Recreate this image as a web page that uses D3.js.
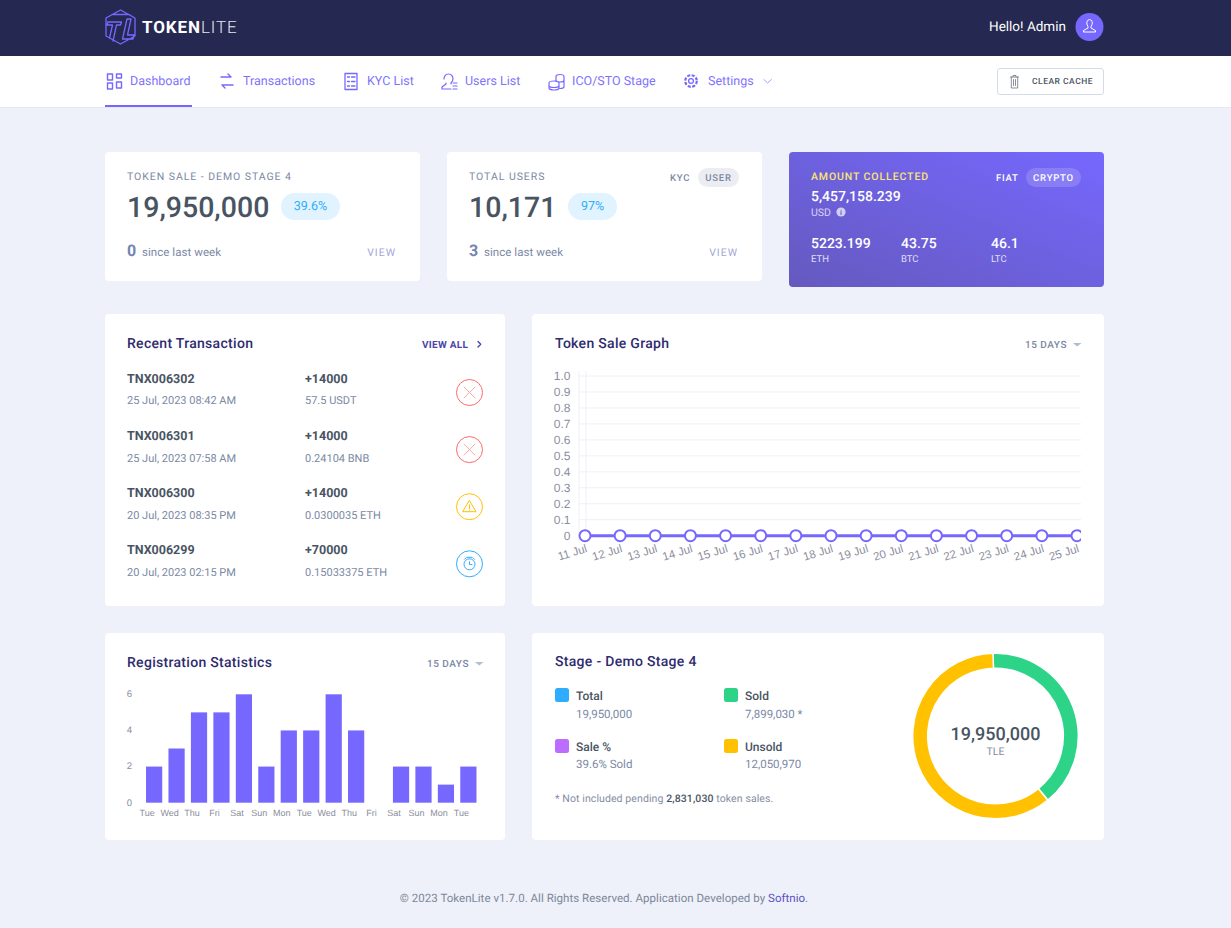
<!DOCTYPE html>
<html>
<head>
<meta charset="utf-8">
<title>TokenLite Dashboard</title>
<script src="https://cdn.jsdelivr.net/npm/d3@7"></script>
<style>
html, body { margin: 0; padding: 0; background: #eef1f9; }
svg { display: block; font-family: Roboto, sans-serif; text-rendering: geometricPrecision; }
.ax text { font-family: "Liberation Sans", sans-serif; fill: #8b8e9c; }
</style>
</head>
<body>
<svg id="page" width="1231" height="928"></svg>
<script>
// chart data
const saleDays = ["11 Jul","12 Jul","13 Jul","14 Jul","15 Jul","16 Jul","17 Jul","18 Jul","19 Jul","20 Jul","21 Jul","22 Jul","23 Jul","24 Jul","25 Jul"];
const saleValues = [0,0,0,0,0,0,0,0,0,0,0,0,0,0,0];
const saleTicks = [0,0.1,0.2,0.3,0.4,0.5,0.6,0.7,0.8,0.9,1];
const regDays = ["Tue","Wed","Thu","Fri","Sat","Sun","Mon","Tue","Wed","Thu","Fri","Sat","Sun","Mon","Tue"];
const regValues = [2,3,5,5,6,2,4,4,6,4,0,2,2,1,2];
const regTicks = [0,2,4,6];
const stageLabels = ["Sold","Unsold"];
const stageValues = [7899030,12050970];
const stageColors = ["#2dd488","#ffc100"];
const transactions = [
    ["TNX006302","+14000","25 Jul, 2023 08:42 AM","57.5 USDT","canceled"],
    ["TNX006301","+14000","25 Jul, 2023 07:58 AM","0.24104 BNB","canceled"],
    ["TNX006300","+14000","20 Jul, 2023 08:35 PM","0.0300035 ETH","warning"],
    ["TNX006299","+70000","20 Jul, 2023 02:15 PM","0.15033375 ETH","pending"]
];
const navItems = [["Dashboard",130],["Transactions",243],["KYC List",367],["Users List",465],["ICO/STO Stage",572],["Settings",708]];

const purple = "#7668fe", ink = "#495463", soft = "#7b88a4", navy = "#2f2c6e";
const svg = d3.select("#page");

function txt(parent, x, y, s, o = {}) {
    return parent.append("text")
        .attr("x", x).attr("y", y)
        .attr("font-size", o.size || 12)
        .attr("font-weight", o.weight || 400)
        .attr("fill", o.fill || soft)
        .attr("text-anchor", o.anchor || "start")
        .attr("letter-spacing", o.ls || 0)
        .text(s);
}
function card(x, y, w, h) {
    return svg.append("rect").attr("x", x).attr("y", y).attr("width", w).attr("height", h)
        .attr("rx", 4).attr("fill", "#fff");
}
function icon(x, y, d, color, sw = 1.3) {
    return svg.append("path").attr("transform", `translate(${x},${y})`).attr("d", d)
        .attr("fill", "none").attr("stroke", color).attr("stroke-width", sw)
        .attr("stroke-linecap", "round").attr("stroke-linejoin", "round");
}

// background, header, nav
svg.append("rect").attr("width", 1231).attr("height", 928).attr("fill", "#eef1f9");
svg.append("rect").attr("width", 1231).attr("height", 56).attr("fill", "#252850");
svg.append("rect").attr("y", 56).attr("width", 1231).attr("height", 51).attr("fill", "#fff");
svg.append("rect").attr("y", 107).attr("width", 1231).attr("height", 1).attr("fill", "#e6e9f2");
svg.append("rect").attr("x", 105).attr("y", 105).attr("width", 87).attr("height", 2).attr("fill", purple);

// logo
icon(105, 10, "M15.5 0L30 8V26L15.5 34L1 26V8ZM7 4.5H24L30 8M3 12H16.5L15.5 15H11.5L8 31M3 12L2 15H7.5L4.5 28M22 9L17.5 29H28L29 25H22.5L26 9Z", purple, 1.3);
const logo = txt(svg, 142, 33, "TOKEN", { size: 17, weight: 700, fill: "#fff", ls: 0.9 });
logo.append("tspan").attr("font-weight", 300).attr("fill", "#e4e5ee").text("LITE");

txt(svg, 989, 31, "Hello! Admin", { size: 13.5, fill: "#fff" });
svg.append("circle").attr("cx", 1089.5).attr("cy", 27).attr("r", 14).attr("fill", purple);
icon(1089.5, 27, "M-2.5-2.5a2.8 3.4 0 1 1 5 0l-1 2.3v1.2L6 3.5V5H-6V3.5L-1.5 1V-.2Z", "#fff", 1);

navItems.forEach(d => txt(svg, d[1], 85, d[0], { size: 12.5, fill: "#8073fb" }));
icon(106, 73, "M1.5 1h5v6h-5ZM10.5 1h5v4h-5ZM1.5 10h5v6h-5ZM10.5 9h5v6h-5Z", purple, 1.4);
icon(220, 74, "M8 0l3 3H1M5 14l-3-3h11", purple, 1.4);
icon(344, 73, "M1 .5h12v16H1ZM3.5 4h2M7.5 4h3.5M3.5 8.5h2M7.5 8.5h3.5M3.5 13h2M7.5 13h3.5", purple, 1.3);
icon(441, 73, "M3 6a4.5 5 0 0 1 9 0c0 2-1 3-2 4v1M5 10v1l-4 3v2h9M12 10h4M12 13h4M12 16h4", purple, 1.2);
icon(548, 74, "M8 2.5a4 2 0 0 1 8 0v10a4 2 0 0 1-4 2M8 2.5v5M1 9a5 2 0 0 1 10 0v5a5 2 0 0 1-10 0ZM1 11.5a5 2 0 0 0 10 0M8 6a4 2 0 0 0 8 0", purple, 1.2);
svg.append("circle").attr("cx", 691).attr("cy", 81).attr("r", 2.4).attr("fill", "none").attr("stroke", purple).attr("stroke-width", 1.3);
svg.append("circle").attr("cx", 691).attr("cy", 81).attr("r", 5.8).attr("fill", "none").attr("stroke", purple).attr("stroke-width", 2.2).attr("stroke-dasharray", "3.1 1.45");
icon(764, 79.5, "M0 0l3.7 3.5 3.7-3.5", "#a79ffb", 1);

svg.append("rect").attr("x", 997.5).attr("y", 68.5).attr("width", 106).attr("height", 26).attr("rx", 2.5)
    .attr("fill", "#fff").attr("stroke", "#d2dde9");
icon(1010.5, 75, "M0 2h8M2.5 2V.5h3V2M.8 2v11h6.4V2M3 4.5v6M5 4.5v6", "#6b7482", 0.8);
txt(svg, 1032, 84, "CLEAR CACHE", { size: 8.5, weight: 500, fill: ink, ls: 0.5 });

// top cards
function statCard(x, label, value, badge, badgeW, count) {
    card(x, 152, 315, 129);
    txt(svg, x + 22, 180, label, { size: 10.5, fill: soft, ls: 0.95 });
    const v = x + 22;
    txt(svg, v, 217, value, { size: 28.5, weight: 500, fill: ink });
    const bx = x === 105 ? 281 : 568;
    svg.append("rect").attr("x", bx).attr("y", 193).attr("width", badgeW).attr("height", 27).attr("rx", 13.5).attr("fill", "#e0f3fe");
    txt(svg, bx + badgeW / 2, 210, badge, { size: 12.5, fill: "#2eacff", anchor: "middle" });
    txt(svg, v, 256, count, { size: 16, weight: 700, fill: "#7385b0" });
    txt(svg, v + 15, 256, "since last week", { size: 11.5, ls: 0.05, fill: soft });
    txt(svg, x + 291, 256, "VIEW", { size: 10.5, fill: "#a3a6d6", anchor: "end", ls: 1 });
}
statCard(105, "TOKEN SALE - DEMO STAGE 4", "19,950,000", "39.6%", 59, "0");
statCard(447, "TOTAL USERS", "10,171", "97%", 49, "3");
txt(svg, 670, 181, "KYC", { size: 9.5, weight: 500, fill: soft, ls: 0.8 });
svg.append("rect").attr("x", 698).attr("y", 168).attr("width", 41).attr("height", 19).attr("rx", 9.5).attr("fill", "#ebedf2");
txt(svg, 718.5, 181, "USER", { size: 9.5, weight: 500, fill: soft, ls: 0.8, anchor: "middle" });

// amount card
const grad = svg.append("defs").append("linearGradient").attr("id", "amt")
    .attr("x1", "0%").attr("y1", "100%").attr("x2", "100%").attr("y2", "0%");
grad.append("stop").attr("offset", "0%").attr("stop-color", "#6559bf");
grad.append("stop").attr("offset", "100%").attr("stop-color", "#7668fe");
svg.append("rect").attr("x", 789).attr("y", 152).attr("width", 315).attr("height", 135).attr("rx", 4).attr("fill", "url(#amt)");
txt(svg, 811, 180, "AMOUNT COLLECTED", { size: 10.5, weight: 500, fill: "#f9e56f", ls: 0.9 });
txt(svg, 996, 181, "FIAT", { size: 9.5, weight: 500, fill: "#fff", ls: 0.8 });
svg.append("rect").attr("x", 1026).attr("y", 168).attr("width", 55).attr("height", 19).attr("rx", 9.5).attr("fill", "#fff").attr("opacity", 0.16);
txt(svg, 1053.5, 181, "CRYPTO", { size: 9.5, weight: 500, fill: "#fff", ls: 0.8, anchor: "middle" });
txt(svg, 811, 201, "5,457,158.239", { size: 14, weight: 500, fill: "#fff" });
txt(svg, 811, 216, "USD", { size: 10.5, fill: "#fff" }).attr("opacity", 0.7);
svg.append("circle").attr("cx", 841).attr("cy", 212).attr("r", 4.6).attr("fill", "#fff").attr("opacity", 0.7);
txt(svg, 841, 215, "i", { size: 7, weight: 700, fill: "#6a5dd0", anchor: "middle" });
[["5223.199", "ETH", 811], ["43.75", "BTC", 901], ["46.1", "LTC", 991]].forEach(d => {
    txt(svg, d[2], 248, d[0], { size: 14, weight: 500, fill: "#fff" });
    txt(svg, d[2], 262, d[1], { size: 9.5, fill: "#fff" }).attr("opacity", 0.8);
});

// recent transactions
card(105, 314, 400, 292);
txt(svg, 127, 348, "Recent Transaction", { size: 14, weight: 500, fill: navy, ls: 0.3 });
txt(svg, 422, 348, "VIEW ALL", { size: 10, weight: 700, fill: "#4a46a8", ls: 0.3 });
icon(478, 341.5, "M0 0l2.7 2.7-2.7 2.7", "#4a46a8", 1.4);
const statusColor = { canceled: "#ff6868", warning: "#ffc100", pending: "#2eacff" };
const rows = svg.append("g");
transactions.forEach((t, i) => {
    const y = 57.1 * i;
    txt(rows, 127, 383 + y, t[0], { size: 12.5, weight: 700, fill: ink });
    txt(rows, 305, 383 + y, t[1], { size: 12.5, weight: 700, fill: ink });
    txt(rows, 127, 404 + y + (i ? 0.8 : 0), t[2], { size: 11, fill: soft });
    txt(rows, 305, 404 + y + (i ? 0.8 : 0), t[3], { size: 11, fill: soft });
    const cy = 392.5 + y, c = statusColor[t[4]];
    svg.append("circle").attr("cx", 469.5).attr("cy", cy).attr("r", 13).attr("fill", "#fff").attr("stroke", c);
    if (t[4] === "canceled") icon(469.5, cy, "M-5.5-5.5L5.5 5.5M5.5-5.5L-5.5 5.5", "#ffa9a9", 1);
    if (t[4] === "warning") icon(469.5, cy, "M0-6L6.5 5H-6.5ZM0-2V2M0 3.4V3.6", c, 1);
    if (t[4] === "pending") {
        svg.append("circle").attr("cx", 469.5).attr("cy", cy + 0.5).attr("r", 5.5).attr("fill", "none").attr("stroke", c);
        icon(469.5, cy, "M0-2V.8H2.5M-5-4.5L-3.5-6M5-4.5L3.5-6M-2.5-6.5H2.5", c, 1);
    }
});

// token sale graph
card(532, 314, 572, 292);
txt(svg, 555, 348, "Token Sale Graph", { size: 14, weight: 500, fill: navy, ls: 0.3 });
function daysPicker(x, y) {
    txt(svg, x, y, "15 DAYS", { size: 10, weight: 500, fill: soft, ls: 0.5 });
    svg.append("path").attr("transform", `translate(${x + 48},${y - 5})`).attr("d", "M0 0H8.5L4.25 3.5Z").attr("fill", "#b1becd");
}
daysPicker(1025, 348);

const saleX = d3.scalePoint().domain(saleDays).range([585, 1077]);
const saleY = d3.scaleLinear().domain([0, 1]).range([535.7, 376]);
const grid = "#eff0f7";

const saleYAxis = svg.append("g").attr("class", "ax").attr("transform", "translate(579,0)")
    .call(d3.axisLeft(saleY).tickValues(saleTicks).tickSize(0).tickPadding(8.5)
        .tickFormat(d => d === 0 ? "0" : d3.format(".1f")(d)));
saleYAxis.select(".domain").attr("stroke", grid).attr("d", "M0,371V541");
saleYAxis.selectAll("text").attr("font-size", 12).attr("font-family", '"Liberation Sans", sans-serif');
saleYAxis.selectAll("line").remove();
svg.append("g").selectAll("line").data(saleTicks).join("line")
    .attr("x1", 579).attr("x2", 1081)
    .attr("y1", d => saleY(d)).attr("y2", d => saleY(d))
    .attr("stroke", grid);
svg.append("line").attr("x1", saleX(saleDays[0]) + 1).attr("x2", saleX(saleDays[0]) + 1)
    .attr("y1", 371).attr("y2", 541).attr("stroke", grid);

const saleXAxis = svg.append("g").attr("class", "ax").attr("transform", "translate(0,541)")
    .call(d3.axisBottom(saleX).tickSize(0).tickPadding(0));
saleXAxis.select(".domain").remove();
saleXAxis.selectAll("text")
    .attr("font-size", 11.5).attr("font-family", '"Liberation Sans", sans-serif')
    .attr("text-anchor", "end").attr("x", -1).attr("y", 11).attr("dy", 0)
    .attr("transform", "rotate(-17)");

svg.append("clipPath").attr("id", "plot").append("rect").attr("x", 570).attr("y", 370).attr("width", 511).attr("height", 180);
const salePlot = svg.append("g").attr("clip-path", "url(#plot)");
salePlot.append("path").datum(saleValues)
    .attr("d", d3.line().x((d, i) => saleX(saleDays[i])).y(d => saleY(d)))
    .attr("fill", "none").attr("stroke", purple).attr("stroke-width", 3);
salePlot.selectAll("circle").data(saleValues).join("circle")
    .attr("cx", (d, i) => saleX(saleDays[i])).attr("cy", d => saleY(d))
    .attr("r", 5.5).attr("fill", "#fff").attr("stroke", purple).attr("stroke-width", 2);

// registration statistics
card(105, 633, 400, 207);
txt(svg, 127, 667, "Registration Statistics", { size: 14, weight: 500, fill: navy, ls: 0.3 });
daysPicker(427, 667);
const regKeys = regDays.map((d, i) => i);
const regX = d3.scaleBand().domain(regKeys).range([142.9, 479.6]).paddingInner(0.278).paddingOuter(0.139);
const regY = d3.scaleLinear().domain([0, 6]).range([802.7, 694.3]);
svg.append("g").selectAll("rect").data(regValues).join("rect")
    .attr("x", (d, i) => regX(i)).attr("width", regX.bandwidth())
    .attr("y", d => regY(d)).attr("height", d => regY(0) - regY(d))
    .attr("fill", purple);
const regYAxis = svg.append("g").attr("class", "ax").attr("transform", "translate(132,0)")
    .call(d3.axisLeft(regY).tickValues(regTicks).tickSize(0).tickPadding(0).tickFormat(d3.format("d")));
regYAxis.select(".domain").remove();
regYAxis.selectAll("text").attr("font-size", 9.5).attr("font-family", '"Liberation Sans", sans-serif')
    .attr("dy", d => d === 0 ? "0.3em" : "0.25em");
const regXAxis = svg.append("g").attr("class", "ax").attr("transform", "translate(0,810)")
    .call(d3.axisBottom(regX).tickSize(0).tickPadding(0).tickFormat(i => regDays[i]));
regXAxis.select(".domain").remove();
regXAxis.selectAll("text").attr("font-size", 9).attr("font-family", '"Liberation Sans", sans-serif')
    .attr("dx", -7);

// stage donut
card(532, 633, 572, 207);
txt(svg, 555, 666, "Stage - Demo Stage 4", { size: 14, weight: 500, fill: navy, ls: 0.3 });
[["Total", "19,950,000", 555, 688, "#2eacff"], ["Sold", "7,899,030 *", 724, 688, "#2dd488"],
 ["Sale %", "39.6% Sold", 555, 739, "#bc6cff"], ["Unsold", "12,050,970", 724, 739, "#ffc100"]].forEach(d => {
    svg.append("rect").attr("x", d[2]).attr("y", d[3]).attr("width", 14).attr("height", 14).attr("rx", 2.5).attr("fill", d[4]);
    txt(svg, d[2] + 21, d[3] + 12, d[0], { size: 12, weight: 500, fill: ink });
    txt(svg, d[2] + 21, d[3] + 30 - (d[3] > 700 ? 1 : 0), d[1], { size: 11.5, fill: soft });
});
const note = txt(svg, 555, 802, "* Not included pending ", { size: 10.5, fill: "#848da3", ls: 0.1 });
note.append("tspan").attr("font-weight", 500).attr("fill", ink).text("2,831,030");
note.append("tspan").text(" token sales.");

const pie = d3.pie().sort(null).startAngle(-0.03).endAngle(2 * Math.PI - 0.03)(stageValues);
const arc = d3.arc().innerRadius(67.8).outerRadius(82.8);
svg.append("g").attr("transform", "translate(995.5,736)").selectAll("path").data(pie).join("path")
    .attr("d", arc).attr("fill", (d, i) => stageColors[i]).attr("stroke", "#fff").attr("stroke-width", 1.5);
txt(svg, 995.5, 740, "19,950,000", { size: 18, weight: 500, fill: ink, anchor: "middle" });
txt(svg, 995.5, 755, "TLE", { size: 10.5, fill: "#848da3", anchor: "middle" });

// footer
const foot = txt(svg, 604, 902, "© 2023 TokenLite v1.7.0. All Rights Reserved. Application Developed by ", { size: 11.5, ls: 0.03, fill: "#7d8799", anchor: "middle" });
foot.append("tspan").attr("fill", "#5a52c0").text("Softnio");
foot.append("tspan").text(".");
</script>
</body>
</html>
